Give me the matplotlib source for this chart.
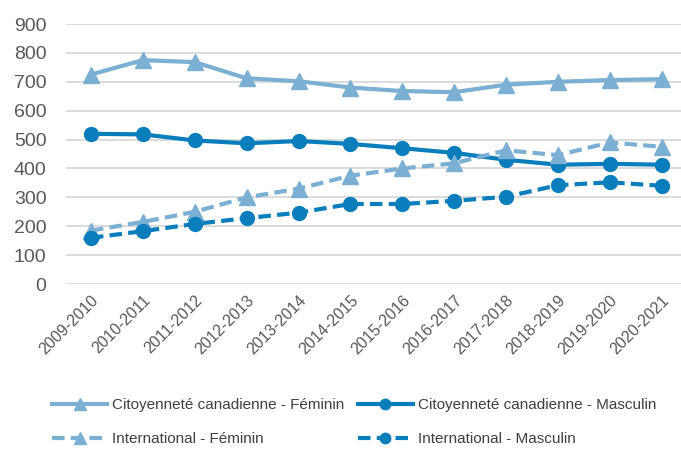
import matplotlib
matplotlib.use('Agg')
import matplotlib.pyplot as plt

years = ['2009-2010', '2010-2011', '2011-2012', '2012-2013', '2013-2014', '2014-2015',
         '2015-2016', '2016-2017', '2017-2018', '2018-2019', '2019-2020', '2020-2021']
cit_fem = [725, 775, 768, 712, 702, 680, 668, 664, 690, 700, 706, 709]
cit_masc = [520, 518, 497, 487, 495, 485, 470, 454, 430, 413, 416, 413]
int_fem = [185, 215, 250, 300, 330, 375, 400, 418, 463, 446, 490, 475]
int_masc = [160, 183, 208, 228, 247, 277, 277, 288, 302, 342, 352, 340]

light = '#7BAFD4'
dark = '#0A7DBD'
plt.rcParams['font.family'] = ['Liberation Sans', 'DejaVu Sans']

fig = plt.figure(figsize=(6.81, 4.53), dpi=100)
ax = fig.add_axes([0.097, 0.373, 0.903, 0.574])
x = range(len(years))

l1, = ax.plot(x, cit_fem, color=light, lw=3, marker='^', ms=11, label='Citoyenneté canadienne - Féminin')
l2, = ax.plot(x, cit_masc, color=dark, lw=3, marker='o', ms=10, label='Citoyenneté canadienne - Masculin')
l3, = ax.plot(x, int_fem, color=light, lw=3, ls=(0, (3, 1.5)), marker='^', ms=11, label='International - Féminin')
l4, = ax.plot(x, int_masc, color=dark, lw=3, ls=(0, (3, 1.5)), marker='o', ms=10, label='International - Masculin')

ax.set_xlim(-0.48, 11.37)
ax.set_ylim(0, 900)
ax.set_yticks(range(0, 1000, 100))
ax.set_xticks(list(x))
ax.set_xticklabels(years, rotation=45, ha='right', rotation_mode='anchor')
ax.tick_params(axis='x', labelsize=11.5, colors='#595959', length=0, pad=6)
ax.tick_params(axis='y', labelsize=14, colors='#595959', length=0, pad=14)
ax.grid(axis='y', color='#D9D9D9', lw=1.3)
ax.set_axisbelow(True)
for s in ax.spines.values():
    s.set_visible(False)

# row order: canadian on top, international below
handles = [l1, l3, l2, l4]
fig.legend(handles, [h.get_label() for h in handles], loc='lower center',
           bbox_to_anchor=(0.52, -0.015), ncol=2, frameon=False,
           fontsize=11, labelcolor='#404040', handlelength=3.6, columnspacing=0.9,
           labelspacing=1.3, handletextpad=0.3, markerscale=0.75)

fig.savefig('out.png', dpi=100)
